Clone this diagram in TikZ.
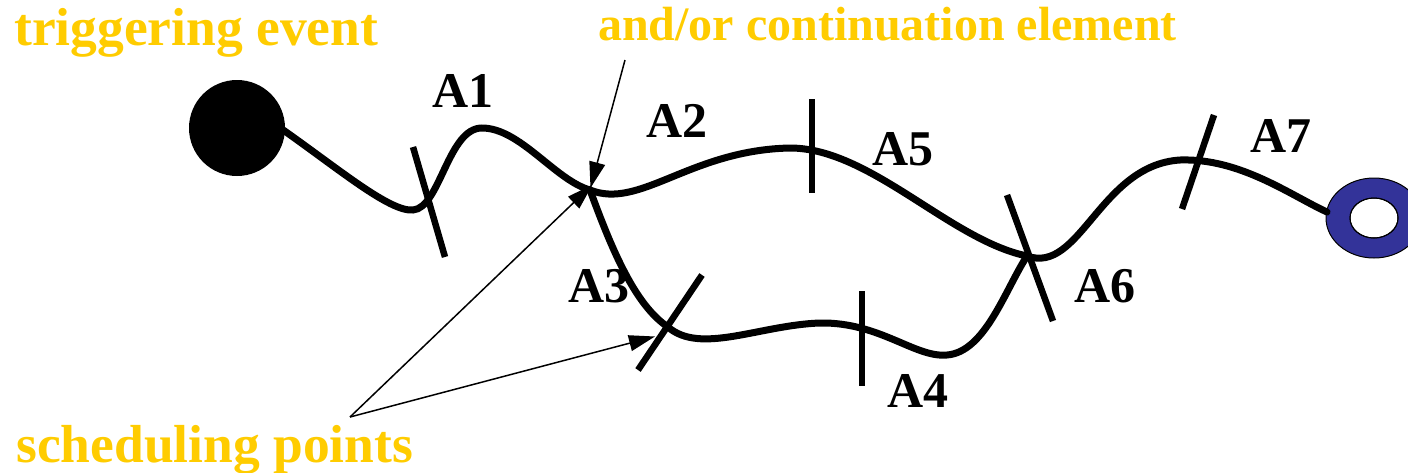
\documentclass[tikz,border=0pt]{standalone}
\usepackage{fontspec}
\setmainfont{Liberation Serif}
\usetikzlibrary{arrows.meta}
\definecolor{gold}{HTML}{FFCC00}
\definecolor{ringblue}{HTML}{333399}
\begin{document}
\begin{tikzpicture}[x=1pt,y=-1pt,
  lbl/.style={font=\fontsize{50}{50}\selectfont\bfseries, inner sep=0pt, anchor=base west},
  ylbl/.style={font=\fontsize{53.5}{53.5}\selectfont\bfseries, text=gold, inner sep=0pt, anchor=base west},
  flow/.style={line width=7pt, line cap=round},
  tick/.style={line width=6.5pt},
  pointer/.style={line width=1.5pt, -{Triangle[length=26pt,width=16pt]}, shorten >=-2pt}
]
\useasboundingbox (0,0) rectangle (1408,472);

% start and end
\node[circle, fill=black, minimum size=96pt, inner sep=0pt] (start) at (237,128) {};
\fill[ringblue, draw=black, line width=1pt, even odd rule]
  (1374,218) ellipse [x radius=48, y radius=40]
  (1374,218) ellipse [x radius=24, y radius=20];
\draw[line width=1pt] (1374,218) ellipse [x radius=24, y radius=20];
\coordinate (endring) at (1327,212);

% key points
\coordinate (j) at (590,190);
\coordinate (x3) at (668,327);
\coordinate (x6) at (1027,256);

% flow lines
\draw[flow] (start.east) ++(-2,2) .. controls (340,170) and (390,212) .. (413,210)
  .. controls (440,208) and (448,128) .. (482,128)
  .. controls (520,128) and (555,180) .. (j);
\draw[flow] (j) .. controls (640,210) and (690,150) .. (790,148)
  .. controls (870,148) and (950,240) .. (x6)
  .. controls (1080,275) and (1100,165) .. (1180,160)
  .. controls (1240,158) and (1290,195) .. (endring);
\draw[flow] (j) .. controls (612,250) and (635,305) .. (x3)
  .. controls (700,355) and (760,325) .. (820,323)
  .. controls (880,322) and (915,358) .. (947,355)
  .. controls (985,352) and (1005,290) .. (x6);

% ticks
\coordinate (t1a) at (413,147); \coordinate (t1b) at (445,257);
\coordinate (t3a) at (702,275); \coordinate (t3b) at (638,370);
\coordinate (t5a) at (812,99);  \coordinate (t5b) at (812,193);
\coordinate (t4a) at (862,291); \coordinate (t4b) at (862,386);
\coordinate (t6a) at (1007,195); \coordinate (t6b) at (1053,321);
\coordinate (t7a) at (1214,115); \coordinate (t7b) at (1182,209);
\draw[tick] (t1a) -- (t1b);
\draw[tick] (t3a) -- (t3b);
\draw[tick] (t5a) -- (t5b);
\draw[tick] (t4a) -- (t4b);
\draw[tick] (t6a) -- (t6b);
\draw[tick] (t7a) -- (t7b);

% labels
\node[lbl] (a1) at (432,107) {A1};
\node[lbl] (a2) at (646,137) {A2};
\node[lbl] (a3) at (568,302) {A3};
\node[lbl] (a4) at (887,407) {A4};
\node[lbl] (a5) at (872,165) {A5};
\node[lbl] (a6) at (1074,302) {A6};
\node[lbl] (a7) at (1250,152) {A7};

\node[ylbl] (trig) at (14,45) {triggering event};
\node[ylbl, font=\fontsize{48}{48}\selectfont\bfseries] (cont) at (598,40) {and/or continuation element};
\node[ylbl] (sched) at (16,462) {scheduling points};

% pointers
\coordinate (cstart) at (625,60);
\coordinate (sstart) at (350,417);
\coordinate (jtip) at (591,186);
\coordinate (x3tip) at (653,337);
\draw[pointer] (cstart) -- (jtip);
\draw[pointer] (sstart) -- (jtip);
\draw[pointer] (sstart) -- (x3tip);
\end{tikzpicture}
\end{document}
